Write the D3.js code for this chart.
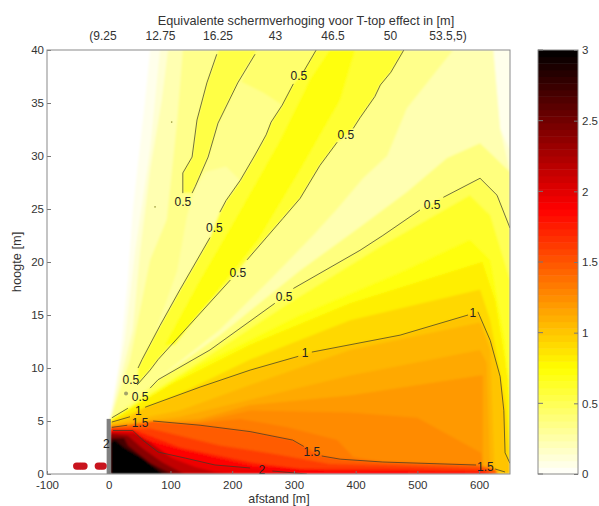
<!DOCTYPE html>
<html>
<head>
<meta charset="utf-8">
<script src="https://cdn.jsdelivr.net/npm/d3@7"></script>
<style>
  html, body { margin: 0; background: #fff; }
  text { font-family: "Liberation Sans", Arial, sans-serif; fill: #333; }
</style>
</head>
<body>
<svg width="599" height="506"></svg>
<script>
// contour lines, in [afstand, hoogte], broken where a label sits
const line05a = [[175,39.6],[159,36.9],[143,33.4],[135,29.9],[120,28.4],[120,26.5]];
const line05b = [[237,39.6],[209,36.9],[177,33.1],[161,29.9],[140,27.1],[135,26.5]];
const line05c1 = [[336,40],[315,37.9]];
const line05c2 = [[299,36.8],[281,34.8],[263,33.2],[255,32],[237,30.1],[213,27.7],[190,25.8],[180,24.7]];
const line05c3 = [[164,22.3],[115.5,17.4],[83,14],[54,10.8],[47.5,10]];
const line05d1 = [[478,40],[457,37.9],[440,36.7],[431,35.6],[407,33.6],[396,32.6]];
const line05d2 = [[370,31.3],[342,29.1],[310,26],[282,24.1],[224,20.2]];
const line05d3 = [[197,18.3],[80,10.8],[67,9.8],[46,8.4]];
const line05e1 = [[650,23.2],[629,26.3],[601.5,27.9],[542,26.1]];
const line05e2 = [[504,24.9],[444,22.5],[407,21.1],[299,17.5]];
const line05e3 = [[269,16.1],[164,11.7],[80,8.9],[67,8.1]];
const line05e4 = [[31,6.2],[5,5.3]];
const line1a = [[650,1],[642,2],[640,6],[634,9.2],[618,12.6],[598,15.3]];
const line1b = [[582,15],[472,13.1],[329,11.5]];
const line1c = [[307,11.1],[229,9.8],[148,8.2],[59,6.3]];
const line1d = [[34.5,5.4],[5,4.9]];
const line15a = [[642,0.19],[626,0.47]];
const line15b = [[595,0.85],[444,1.13],[375,1.4],[345,1.7]];
const line15c = [[316,2.6],[298,3.2],[229,4],[148,4.6],[72,5]];
const line15d = [[30,4.6],[5,4.4]];
const line2a = [[321,0],[265,0.28]];
const line2b = [[229,0.57],[172,0.85],[124,1.5],[80,2.07],[55,3.2],[39,4.1],[7,4.1]];

const contourLines = [line05a, line05b, line05c1, line05c2, line05c3, line05d1, line05d2, line05d3,
  line05e1, line05e2, line05e3, line05e4, line1a, line1b, line1c, line1d, line15a, line15b, line15c, line15d, line2a, line2b];

// filled regions, painted back to front
const bandPale = [[2,5],[18,10.8],[31,18.3],[39,24.9],[59,35.3],[67,40],[650,40],[650,0],[2,0]];
const bandLight = [[2,5.1],[26,12.6],[43,21.1],[67,30.6],[83,40],[623,40],[634,32.6],[650,30.6],[650,0],[2,0]];
const bandCream = [[3,5.2],[39,13.6],[51,21.1],[67,28.7],[86,35.3],[96,40],[623,40],[634,32.6],[650,28.5],[650,0],[3,0]];
const bandFan = [[3,5.2],[34.5,10.8],[67,20.2],[94,24],[111,33.4],[120,40],[558,40],[483,34.5],[451,30],[412,27.9],[370,25],[331,22.5],[261,18.3],[180,13.6],[67,8.4]];
const bandStrip = [[60,10.8],[111,19.2],[127,24.4],[140,27],[156,28.5],[190,29],[213,27.7],[190,25.8],[180,24.7],[164,22.3],[115.5,17.4],[83,14],[54,10.8]];
const bandTop = [[240,40],[215,37],[250,36],[281,34.8],[299,36.8],[315,37.9],[336,40]];
const bandU = [[178,40],[159,36.9],[143,33.4],[135,29.9],[120,28.4],[120,26.5],[135,26.5],[140,27.1],[161,29.9],[177,33.1],[209,36.9],[240,40]];
const bandCore = [...line05c1, ...line05c2, ...line05c3, ...[...line05d3].reverse(), ...[...line05d2].reverse(), ...[...line05d1].reverse()];
const bandCoreInner = [[358,40],[399,40],[375,35.3],[310,28.7],[242,22.1],[164,16.4],[107,12.2],[91,12.2],[148,18.3],[205,24],[278,31.5],[326,37.2]];
const bandHalo = [[601.5,31.2],[548,29.8],[483,26.6],[407,23.3],[310,19.2],[180,13.1],[67,8.4],[3,5.2],[3,0],[650,0],[650,28.5]];
const bandLow05 = [...line05e1, ...line05e2, ...line05e3, ...line05e4, [3,5.2],[3,0],[650,0]];
const bandYellowA = [[3,5.2],[132,10],[286,15.9],[444,21.6],[585,26.3],[618,24.4],[650,18.3],[650,0],[3,0]];
const bandYellowB = [[3,5.1],[148,10.3],[310,15],[472,19],[585,22.1],[618,20.2],[642,12.6],[650,7],[650,0],[3,0]];
const bandAmberA = [[3,5],[99,8.4],[229,12.2],[391,16.1],[605,20],[626,16.4],[647,8.9],[650,0],[3,0]];
const bandAmberB = [[3,4.95],[115.5,7.6],[229,10.8],[391,14.5],[601.5,17.4],[618,14.5],[642,7],[650,2],[650,0],[3,0]];
const band1 = [...line1a, ...line1b, ...line1c, ...line1d, [3,4.9],[3,0],[650,0]];
const bandOrangeA = [[3,4.7],[115.5,6],[229,8.4],[391,11.7],[601.5,14.3],[618,11.7],[625,0],[3,0]];
const bandOrangeB = [[3,4.6],[115.5,5.4],[229,7],[391,9.3],[601.5,11.7],[612,10.5],[618,0],[3,0]];
const bandOrangeC = [[3,4.55],[148,5.2],[229,6.5],[391,7.4],[601.5,9.3],[606,9.3],[606,0],[3,0]];
const bandOrangeD = [[3,4.5],[148,4.95],[229,6],[391,5.8],[500,5.3],[603,2],[606,0.9],[606,0],[3,0]];
const bandOrangeE = [[3,4.45],[148,4.8],[213,5.2],[289,4.4],[370,3.2],[396,1.6],[444,1.13],[600,0.85],[606,0],[3,0]];
const band15 = [[3,4.4],[30,4.6],[72,5],[148,4.6],[229,4],[298,3.2],[316,2.6],[345,1.7],[375,1.4],[444,1.13],[595,0.85],[626,0.47],[630,0],[3,0]];
const bandRedA = [[3,4.3],[67,4.3],[180,2.7],[278,1.8],[358,0.95],[444,0.85],[601.5,0.55],[625,0],[3,0]];
const bandRedB = [[3,4.2],[40,4.2],[115.5,2.5],[229,1.1],[310,0.5],[444,0.5],[601,0.3],[625,0],[3,0]];
const bandRedC = [[3,4.15],[115,2.3],[229,0.8],[350,0.3],[600,0.15],[620,0],[3,0]];
const band2 = [[3,4.1],[39,4.1],[55,3.2],[80,2.07],[124,1.5],[172,0.85],[229,0.57],[265,0.28],[321,0],[3,0]];
const bandDarkA = [[3,3.95],[43,3.85],[67,3],[102,1.5],[140,0.66],[172,0.2],[200,0],[3,0]];
const bandDarkB = [[3,3.8],[31,3.6],[54,2.45],[86,1.13],[119,0.1],[125,0],[3,0]];
const bandDarkC = [[3,3.4],[25,3.4],[31,2.7],[67,1.04],[102,0],[3,0]];
const bandBlack = [[3,3],[10,3.2],[26,2.45],[54,1.5],[86,0.1],[88,0],[3,0]];

const bandValues = [0.06, 0.13, 0.23, 0.34, 0.27, 0.43, 0.55, 0.6, 0.72, 0.38, 0.5, 0.62, 0.72, 0.82, 0.92,
  1.01, 1.07, 1.13, 1.2, 1.26, 1.33, 1.47, 1.6, 1.76, 1.88, 1.95, 2.15, 2.4, 2.7, 3];
const bandShapes = [bandPale, bandLight, bandCream, bandFan, bandStrip, bandTop, bandU, bandCore, bandCoreInner, bandHalo, bandLow05,
  bandYellowA, bandYellowB, bandAmberA, bandAmberB, band1, bandOrangeA, bandOrangeB, bandOrangeC, bandOrangeD, bandOrangeE,
  band15, bandRedA, bandRedB, bandRedC, band2, bandDarkA, bandDarkB, bandDarkC, bandBlack];

// contour labels: text, afstand, hoogte
const contourLabels = [["0.5",120,25.7],["0.5",171,23.2],["0.5",308,37.6],["0.5",384,32],["0.5",209,19],["0.5",284,16.7],["0.5",524,25.4],
  ["0.5",36,8.9],["0.5",51,7.3],["1",48,6],["1",318,11.4],["1",590,15.2],["1.5",51,4.8],["1.5",329,2.07],["1.5",610,0.66],["2",248,0.38],["2",-4,2.9]];
const specks = [[102,33.2],[75,25.2]];
const speckGrey = [[28,7.6]];
const sources = [-52,-48,-44,-40,-17,-13,-9];
const sourceHeight = 0.75;
const wall = [[0,0],[0,5.2]];

const xTicks = [-100,0,100,200,300,400,500,600];
const yTicks = [0,5,10,15,20,25,30,35,40];
const barTicks = [0,0.5,1,1.5,2,2.5,3];
const topLabels = ["(9.25","12.75","16.25","43","46.5","50","53.5,5)"];

const svg = d3.select("svg");
const x = d3.scaleLinear().domain([-100,650]).range([47,510]);
const y = d3.scaleLinear().domain([0,40]).range([474,50]);
const barY = d3.scaleLinear().domain([0,3]).range([474,50]);
const topX = d3.scalePoint().domain(topLabels).range([103,448]);
const hot = d3.scaleLinear().domain([0,0.75,1.875,3]).range(["#ffffff","#ffff00","#ff0000","#000000"]);
const path = d3.line().x(d => x(d[0])).y(d => y(d[1]));

const defs = svg.append("defs");
defs.append("clipPath").attr("id","plot").append("rect")
  .attr("x",47).attr("y",50).attr("width",463).attr("height",424);
defs.append("filter").attr("id","soft").attr("x",-0.05).attr("y",-0.05).attr("width",1.1).attr("height",1.1)
  .append("feGaussianBlur").attr("stdDeviation",1);

const plot = svg.append("g").attr("clip-path","url(#plot)");
plot.append("g").attr("filter","url(#soft)")
  .selectAll("path")
  .data(bandShapes)
  .enter()
  .append("path")
  .attr("d", d => path(d) + "Z")
  .attr("fill", (d,i) => hot(bandValues[i]));

plot.append("g").selectAll("path")
  .data(contourLines)
  .enter()
  .append("path")
  .attr("d", path)
  .attr("fill","none")
  .attr("stroke","#3a3a2a")
  .attr("stroke-opacity",0.72)
  .attr("stroke-width",1);

plot.append("g").selectAll("circle")
  .data(specks)
  .enter()
  .append("circle")
  .attr("cx", d => x(d[0])).attr("cy", d => y(d[1])).attr("r",0.8)
  .attr("fill","#99993a");
plot.append("g").selectAll("circle")
  .data(speckGrey)
  .enter()
  .append("circle")
  .attr("cx", d => x(d[0])).attr("cy", d => y(d[1])).attr("r",2)
  .attr("fill","#a3a36a");

plot.append("path").attr("d",path(wall)).attr("stroke","#808080").attr("stroke-width",4.2).attr("fill","none");

plot.append("g").selectAll("circle")
  .data(sources)
  .enter()
  .append("circle")
  .attr("cx", d => x(d)).attr("cy", y(sourceHeight)).attr("r",3.6)
  .attr("fill","#c8141e");

svg.append("g").selectAll("text")
  .data(contourLabels)
  .enter()
  .append("text")
  .attr("x", d => x(d[1])).attr("y", d => y(d[2]))
  .attr("dy","0.36em")
  .attr("text-anchor","middle")
  .attr("font-size",12)
  .style("fill","#222")
  .text(d => d[0]);

// axes
const styleAxis = g => {
  g.select(".domain").remove();
  g.selectAll("line").attr("stroke","#777");
  g.selectAll("text").attr("font-size",11.5).style("fill","#333");
};
svg.append("g").attr("transform","translate(0,474)")
  .call(d3.axisBottom(x).tickValues(xTicks).tickFormat(d => d).tickSizeInner(-3).tickPadding(7))
  .call(styleAxis);
svg.append("g").attr("transform","translate(47,0)")
  .call(d3.axisLeft(y).tickValues(yTicks).tickSizeInner(-4).tickPadding(3))
  .call(styleAxis);
svg.append("rect").attr("x",47).attr("y",50).attr("width",463).attr("height",424)
  .attr("fill","none").attr("stroke","#8a8a8a");

// colour bar
const barSteps = d3.range(64).map(i => i * 3 / 64);
svg.append("g").selectAll("rect")
  .data(barSteps)
  .enter()
  .append("rect")
  .attr("x",538).attr("width",40)
  .attr("y", d => barY(d + 3/64))
  .attr("height", barY(0) - barY(3/64) + 0.5)
  .attr("fill", d => hot(d + 1.5/64));
svg.append("rect").attr("x",538).attr("y",50).attr("width",40).attr("height",424)
  .attr("fill","none").attr("stroke","#8a8a8a");
svg.append("g").attr("transform","translate(578,0)")
  .call(d3.axisRight(barY).tickValues(barTicks).tickFormat(d => d).tickSizeInner(-4).tickPadding(4))
  .call(styleAxis);
svg.append("g").selectAll("line")
  .data(barTicks)
  .enter()
  .append("line")
  .attr("x1",538).attr("x2",543)
  .attr("y1", d => barY(d)).attr("y2", d => barY(d))
  .attr("stroke","#777");

// titles
svg.append("text").attr("x",306).attr("y",25).attr("text-anchor","middle").attr("font-size",12.7)
  .text("Equivalente schermverhoging voor T-top effect in [m]");
svg.append("g").selectAll("text")
  .data(topLabels)
  .enter()
  .append("text")
  .attr("x", d => topX(d)).attr("y",40).attr("text-anchor","middle").attr("font-size",12)
  .text(d => d);
svg.append("text").attr("x",279).attr("y",503).attr("text-anchor","middle").attr("font-size",12.4).text("afstand [m]");
svg.append("text").attr("transform","translate(21,262) rotate(-90)").attr("text-anchor","middle").attr("font-size",12.8).text("hoogte [m]");
</script>
</body>
</html>
